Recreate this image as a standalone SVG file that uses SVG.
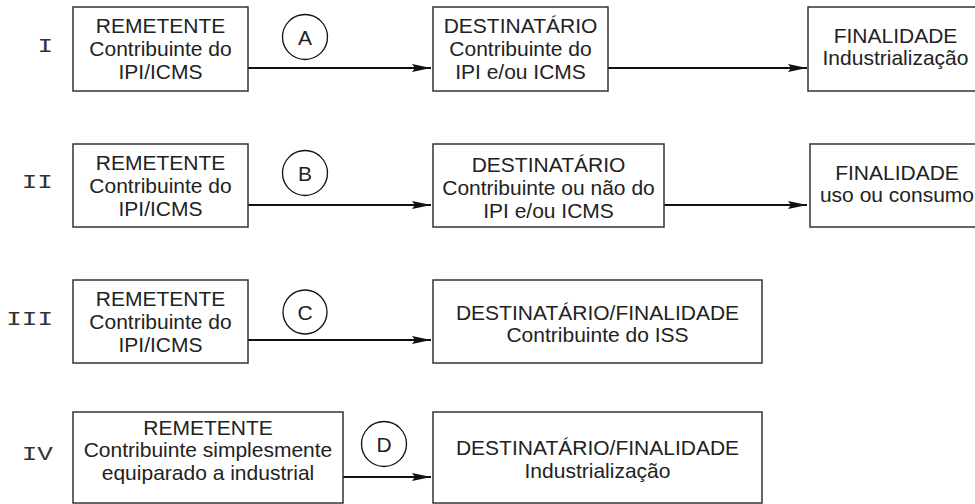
<svg xmlns="http://www.w3.org/2000/svg" width="975" height="504" viewBox="0 0 975 504">
<defs>
<style>
.box{fill:#fff;stroke:#333;stroke-width:1.5}
.t{font-family:"Liberation Sans",Arial,sans-serif;font-size:21px;fill:#222;text-anchor:middle}
.num{font-family:"Liberation Mono","Courier New",monospace;font-size:20px;fill:#333;text-anchor:end}
.circ{fill:#fff;stroke:#111;stroke-width:1.3}
.conn{stroke:#111;stroke-width:2;fill:none}
</style>
<marker id="arr" markerUnits="userSpaceOnUse" markerWidth="20" markerHeight="10" refX="19" refY="5" orient="auto">
<path d="M0,1 L19,5 L0,9 L3,5 z" fill="#111"/>
</marker>
</defs>
<rect width="975" height="504" fill="#fff"/>

<g id="labels" transform="translate(53,0) scale(1.3,1) translate(-53,0)">
<text class="num" x="53" y="52">I</text>
<text class="num" x="53" y="188">II</text>
<text class="num" x="53" y="325">III</text>
<text class="num" x="53" y="460">IV</text>
</g>

<g id="connectors">
<line class="conn" x1="248" y1="68" x2="431" y2="68" marker-end="url(#arr)"/>
<line class="conn" x1="608" y1="68" x2="807" y2="68" marker-end="url(#arr)"/>
<line class="conn" x1="248" y1="205" x2="431" y2="205" marker-end="url(#arr)"/>
<line class="conn" x1="664" y1="205" x2="807" y2="205" marker-end="url(#arr)"/>
<line class="conn" x1="248" y1="340" x2="431" y2="340" marker-end="url(#arr)"/>
<line class="conn" x1="343" y1="477" x2="431" y2="477" marker-end="url(#arr)"/>
</g>

<g id="rem1">
<rect class="box" x="73" y="7" width="175" height="84"/>
<text class="t" x="160.5" y="33">REMETENTE</text>
<text class="t" x="160.5" y="56">Contribuinte do</text>
<text class="t" x="160.5" y="79">IPI/ICMS</text>
</g>
<g id="circA">
<circle class="circ" cx="305" cy="37" r="22.5"/>
<text class="t" x="305" y="44.5">A</text>
</g>
<g id="dest1">
<rect class="box" x="433" y="7" width="175" height="84"/>
<text class="t" x="520.5" y="33">DESTINATÁRIO</text>
<text class="t" x="520.5" y="56">Contribuinte do</text>
<text class="t" x="520.5" y="79">IPI e/ou ICMS</text>
</g>
<g id="fin1">
<rect class="box" x="808" y="7" width="175" height="84"/>
<text class="t" x="895.5" y="43">FINALIDADE</text>
<text class="t" x="895.5" y="65">Industrialização</text>
</g>

<g id="rem2">
<rect class="box" x="73" y="144" width="175" height="83"/>
<text class="t" x="160.5" y="170">REMETENTE</text>
<text class="t" x="160.5" y="193">Contribuinte do</text>
<text class="t" x="160.5" y="216">IPI/ICMS</text>
</g>
<g id="circB">
<circle class="circ" cx="305" cy="173" r="22.5"/>
<text class="t" x="305" y="180.5">B</text>
</g>
<g id="dest2">
<rect class="box" x="433" y="144" width="231" height="83"/>
<text class="t" x="548.5" y="172">DESTINATÁRIO</text>
<text class="t" x="548.5" y="195">Contribuinte ou não do</text>
<text class="t" x="548.5" y="218">IPI e/ou ICMS</text>
</g>
<g id="fin2">
<rect class="box" x="810" y="144" width="175" height="83"/>
<text class="t" x="897" y="180">FINALIDADE</text>
<text class="t" x="897" y="202">uso ou consumo</text>
</g>

<g id="rem3">
<rect class="box" x="73" y="280" width="175" height="83"/>
<text class="t" x="160.5" y="306">REMETENTE</text>
<text class="t" x="160.5" y="329">Contribuinte do</text>
<text class="t" x="160.5" y="352">IPI/ICMS</text>
</g>
<g id="circC">
<circle class="circ" cx="305" cy="312" r="22"/>
<text class="t" x="305" y="319.5">C</text>
</g>
<g id="dest3">
<rect class="box" x="433" y="280" width="329" height="83"/>
<text class="t" x="597.5" y="320">DESTINATÁRIO/FINALIDADE</text>
<text class="t" x="597.5" y="342">Contribuinte do ISS</text>
</g>

<g id="rem4">
<rect class="box" x="73" y="412" width="270" height="91"/>
<text class="t" x="208" y="435">REMETENTE</text>
<text class="t" x="208" y="457">Contribuinte simplesmente</text>
<text class="t" x="208" y="480">equiparado a industrial</text>
</g>
<g id="circD">
<circle class="circ" cx="384" cy="444" r="22.5"/>
<text class="t" x="384" y="451.5">D</text>
</g>
<g id="dest4">
<rect class="box" x="433" y="412" width="329" height="91"/>
<text class="t" x="597.5" y="455">DESTINATÁRIO/FINALIDADE</text>
<text class="t" x="597.5" y="478">Industrialização</text>
</g>
</svg>
